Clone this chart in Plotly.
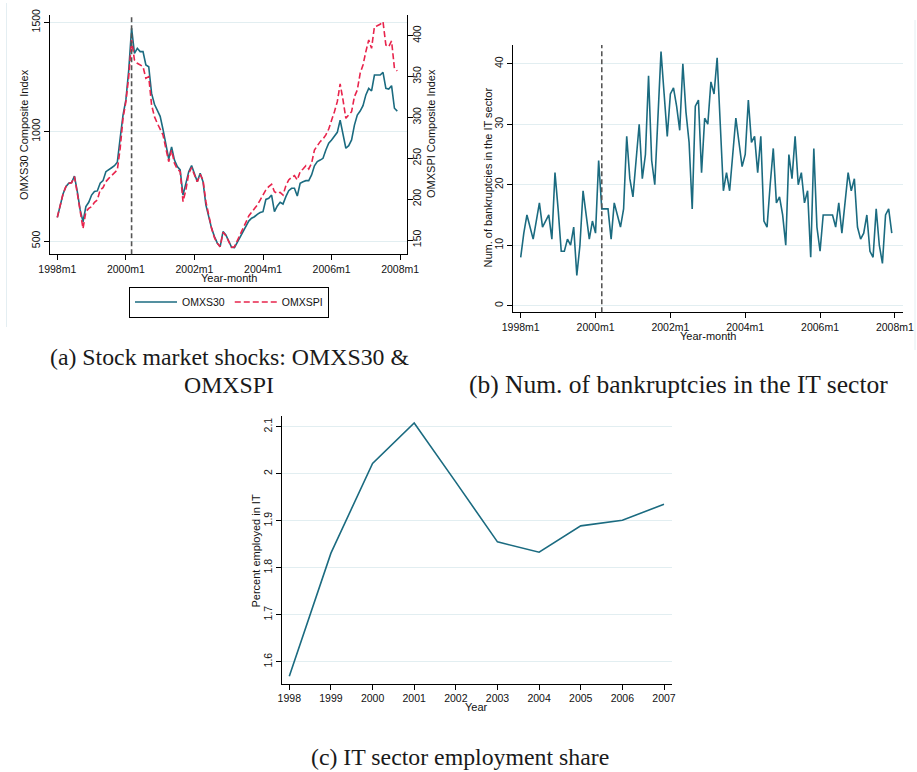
import plotly.graph_objects as go

# ---------------------------------------------------------------- data
# Month labels 1998m1 .. 2007m12 (index 0 .. 119)
months = [f"{y}m{m}" for y in range(1998, 2008) for m in range(1, 13)]
month_idx = list(range(len(months)))
month_ticks = ["1998m1", "2000m1", "2002m1", "2004m1", "2006m1", "2008m1"]
shock_month = "2000m3"

omxs30 = [
    608, 665, 715, 748, 764, 767, 797, 726, 642, 588, 657, 677,
    710, 726, 729, 764, 776, 817, 828, 835, 844, 860, 970, 1076,
    1145, 1282, 1473, 1358, 1381, 1366, 1366, 1305, 1297, 1175, 1125, 1095,
    1070, 1010, 935, 875, 930, 870, 840, 825, 710, 764, 817, 845,
    810, 771, 810, 771, 665, 611, 558, 520, 490, 474, 543, 528,
    497, 471, 470, 493, 520, 543, 566, 591, 604, 611, 622, 630,
    634, 690, 695, 710, 634, 660, 677, 669, 703, 730, 741, 741,
    706, 764, 771, 776, 776, 802, 844, 863, 870, 878, 916, 947,
    962, 977, 997, 1053, 985, 924, 936, 962, 1030, 1076, 1094, 1119,
    1168, 1198, 1186, 1259, 1259, 1259, 1271, 1198, 1195, 1210, 1107, 1094,
]

omxspi = [
    177.7, 192.8, 206.3, 215.3, 219.3, 220.1, 227.5, 207.0, 182.6, 164.0, 184.7, 188.7,
    190.8, 196.0, 198.9, 211.2, 214.0, 221.4, 225.4, 228.7, 231.6, 235.6, 262.0, 298.9,
    319.2, 349.8, 394.7, 370.2, 366.2, 364.1, 362.1, 347.8, 349.8, 315.2, 300.9, 292.7,
    284.6, 278.5, 262.0, 245.8, 260.0, 243.8, 236.9, 233.6, 196.9, 211.2, 231.6, 238.5,
    229.5, 221.4, 230.3, 223.4, 196.9, 178.5, 164.3, 152.9, 145.9, 141.8, 159.4, 155.3,
    147.1, 141.0, 141.8, 148.8, 156.9, 164.3, 171.6, 179.4, 183.8, 187.5, 192.8, 198.9,
    205.0, 211.2, 215.3, 218.1, 209.1, 207.0, 208.3, 205.0, 216.5, 223.4, 226.7, 228.7,
    223.4, 233.6, 236.9, 240.9, 236.9, 243.8, 260.1, 265.4, 270.3, 273.6, 278.5, 285.8,
    295.6, 307.0, 319.2, 340.9, 321.3, 298.9, 302.9, 307.0, 325.4, 333.5, 353.9, 364.1,
    380.4, 394.7, 384.5, 411.0, 412.2, 413.9, 417.1, 388.6, 386.5, 393.5, 360.0, 356.8,
]

bankruptcies = [
    8, 12, 15, 13, 11, 14, 17, 13, 14, 15, 11, 22,
    16, 9, 9, 11, 10, 13, 5, 10, 19, 15, 11, 14,
    12, 24, 16, 16, 16, 11, 17, 15, 13, 16, 28, 21,
    18, 24, 30, 21, 25, 38, 24, 20, 31, 42, 35, 28,
    35, 36, 33, 29, 40, 32, 27, 16, 33, 34, 22, 31,
    30, 37, 35, 41, 30, 19, 22, 19, 25, 31, 27, 23,
    25, 34, 27, 28, 22, 28, 14, 13, 20, 26, 17, 18,
    15, 10, 25, 21, 28, 20, 22, 17, 19, 8, 26, 13,
    9, 15, 15, 15, 15, 13, 17, 12, 17, 22, 19, 21,
    13, 11, 12, 15, 9, 8, 16, 10, 7, 15, 16, 12,
]

years = [1998, 1999, 2000, 2001, 2002, 2003, 2004, 2005, 2006, 2007]
it_share = [1.569, 1.831, 2.022, 2.108, 1.982, 1.855, 1.833, 1.889, 1.901, 1.935]

omxs30_ticks = [500, 1000, 1500]
omxspi_ticks = [150, 200, 250, 300, 350, 400]
bankr_ticks = [0, 10, 20, 30, 40]
share_ticks = [1.6, 1.7, 1.8, 1.9, 2.0, 2.1]
share_labels = ["1.6", "1.7", "1.8", "1.9", "2", "2.1"]

# ---------------------------------------------------------------- style
W, H = 917, 772
TEAL = "#1b6b80"
RED = "#e8244c"
GRID = "#e2eef1"
SANS = "Liberation Sans, Arial, sans-serif"
SERIF = "Liberation Serif, Times New Roman, serif"
TICK_FONT = dict(family=SANS, size=10.5, color="#111")
TITLE_FONT = dict(family=SANS, size=11, color="#111")


def px_x(x):
    return x / W


def px_y(y):
    return (H - y) / H


month_tickvals = [months.index(t) if t in months else len(months) for t in month_ticks]
shock_idx = months.index(shock_month)

axis_common = dict(
    showline=True, linecolor="black", linewidth=1,
    ticks="outside", ticklen=5, tickwidth=1, tickcolor="black",
    zeroline=False, tickfont=TICK_FONT, automargin=False,
)

fig = go.Figure()

# (a) stock market indices
fig.add_trace(go.Scatter(
    x=month_idx, y=omxs30, name="OMXS30", mode="lines",
    line=dict(color=TEAL, width=1.6), xaxis="x", yaxis="y",
))
fig.add_trace(go.Scatter(
    x=month_idx, y=omxspi, name="OMXSPI", mode="lines",
    line=dict(color=RED, width=1.6, dash="6px,3px"), xaxis="x", yaxis="y2",
))
# (b) bankruptcies
fig.add_trace(go.Scatter(
    x=month_idx, y=bankruptcies, mode="lines", showlegend=False,
    line=dict(color=TEAL, width=1.6), xaxis="x2", yaxis="y3",
))
# (c) employment share
fig.add_trace(go.Scatter(
    x=years, y=it_share, mode="lines", showlegend=False,
    line=dict(color=TEAL, width=1.6), xaxis="x3", yaxis="y4",
))

fig.update_layout(
    width=W, height=H,
    margin=dict(l=0, r=0, t=0, b=0, autoexpand=False),
    paper_bgcolor="white", plot_bgcolor="white",
    # panel (a)
    xaxis=dict(
        axis_common, domain=[px_x(50), px_x(407)], anchor="y",
        range=[-2.56, 122.4], tickvals=month_tickvals, ticktext=month_ticks,
        showgrid=False,
    ),
    yaxis=dict(
        axis_common, domain=[px_y(254.3), px_y(15.3)], anchor="x",
        range=[439.2, 1532], tickvals=omxs30_ticks, tickangle=-90,
        showgrid=True, gridcolor=GRID, gridwidth=1,
    ),
    yaxis2=dict(
        axis_common, overlaying="y", side="right", anchor="x",
        range=[132.5, 424.9], tickvals=omxspi_ticks, tickangle=-90,
        showgrid=False, ticklabelstandoff=-5,
    ),
    # panel (b)
    xaxis2=dict(
        axis_common, domain=[px_x(513.3), px_x(902.7)], anchor="y3",
        range=[-2.37, 122.5], tickvals=month_tickvals, ticktext=month_ticks,
        showgrid=False,
    ),
    yaxis3=dict(
        axis_common, domain=[px_y(312.3), px_y(45)], anchor="x2",
        range=[-1.09, 43.1], tickvals=bankr_ticks, tickangle=-90,
        showgrid=True, gridcolor=GRID, gridwidth=1,
    ),
    # panel (c)
    xaxis3=dict(
        axis_common, domain=[px_x(282.3), px_x(671.7)], anchor="y4",
        range=[1997.832, 2007.185], tickvals=years,
        showgrid=False,
    ),
    yaxis4=dict(
        axis_common, domain=[px_y(683.7), px_y(415.7)], anchor="x3",
        range=[1.5532, 2.1234], tickvals=share_ticks, ticktext=share_labels,
        tickangle=-90, showgrid=True, gridcolor=GRID, gridwidth=1,
    ),
    showlegend=True,
    legend=dict(
        orientation="h", x=px_x(229), xanchor="center",
        y=px_y(302), yanchor="middle",
        bordercolor="black", borderwidth=1, bgcolor="white",
        font=dict(family=SANS, size=10.5, color="#111"),
        itemwidth=42,
    ),
)

# vertical marker at the stock-market peak month
for xr, yr in (("x", "y domain"), ("x2", "y3 domain")):
    fig.add_shape(
        type="line", xref=xr, yref=yr, x0=shock_idx, x1=shock_idx, y0=0, y1=1,
        line=dict(color="#555555", width=1.6, dash="5px,3px"), layer="above",
    )

# faint graph-region edges
fig.add_shape(type="line", xref="paper", yref="paper",
              x0=px_x(6.5), x1=px_x(6.5), y0=px_y(327), y1=px_y(3),
              line=dict(color="#e4eef2", width=1))
fig.add_shape(type="line", xref="paper", yref="paper",
              x0=px_x(915), x1=px_x(915), y0=px_y(350), y1=px_y(20),
              line=dict(color="#e4eef2", width=1))

# axis titles
axis_titles = [
    ("OMXS30 Composite Index", 24, 135, -90),
    ("OMXSPI Composite Index", 431, 134, -90),
    ("Year-month", 229, 278, 0),
    ("Num. of bankruptcies in the IT sector", 487.5, 178, -90),
    ("Year-month", 707.7, 336, 0),
    ("Percent employed in IT", 255.5, 551, -90),
    ("Year", 476.7, 707, 0),
]
for text, x, y, ang in axis_titles:
    fig.add_annotation(
        text=text, x=px_x(x), y=px_y(y), xref="paper", yref="paper",
        xanchor="center", yanchor="middle", textangle=ang, showarrow=False,
        font=TITLE_FONT,
    )

# sub-figure captions
captions = [
    ("(a) Stock market shocks: OMXS30 &", 229, 357, 23.8),
    ("OMXSPI", 229, 385, 23.8),
    ("(b) Num. of bankruptcies in the IT sector", 678, 384, 25.5),
    ("(c) IT sector employment share", 460, 757, 23.8),
]
for text, x, y, size in captions:
    fig.add_annotation(
        text=text, x=px_x(x), y=px_y(y), xref="paper", yref="paper",
        xanchor="center", yanchor="middle", showarrow=False,
        font=dict(family=SERIF, size=size, color="#1a1a1a"),
    )

fig.write_html("out.html")
